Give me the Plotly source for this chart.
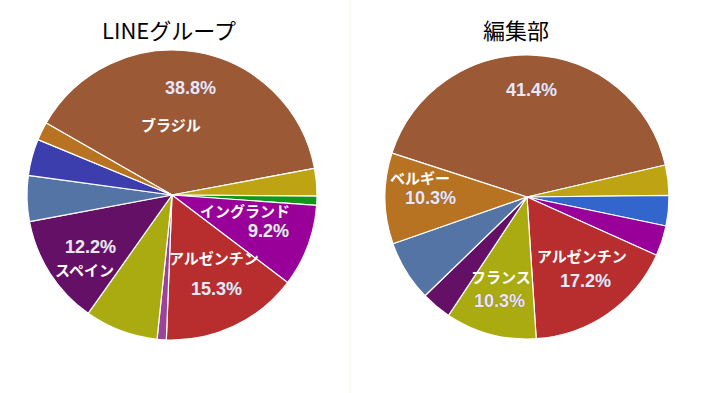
import math
import plotly.graph_objects as go

# ---------------- data ----------------
line_countries = ["ブラジル", "ポルトガル", "メキシコ", "イングランド", "アルゼンチン",
                  "コロンビア", "フランス", "スペイン", "ドイツ", "ウルグアイ", "ベルギー"]
line_votes = [38, 3, 1, 9, 15, 1, 8, 12, 5, 4, 2]

edit_countries = ["ブラジル", "ポルトガル", "クロアチア", "イングランド", "アルゼンチン",
                  "フランス", "スペイン", "ドイツ", "ベルギー"]
edit_votes = [12, 1, 1, 1, 5, 3, 1, 2, 3]

titles = ["LINEグループ", "編集部"]

# ---------------- styles ----------------
country_colors = {
    "ブラジル": "#9c5935", "ポルトガル": "#bea413", "メキシコ": "#109618",
    "イングランド": "#990099", "アルゼンチン": "#b82e2e", "コロンビア": "#994499",
    "フランス": "#aaaa11", "スペイン": "#651067", "ドイツ": "#5574a6",
    "ウルグアイ": "#3b3eac", "ベルギー": "#b77322", "クロアチア": "#3366cc",
}

W, H = 701, 393
# pie geometry (centre x, centre y, radius in px) and start rotation
geom = [
    dict(cx=172, cy=195, R=145, rot=299.8),
    dict(cx=527, cy=197, R=142, rot=288.0),
]
# label placement style: radius fraction for the percentage, name offset (px)
label_style = [
    {"ブラジル": (0.75, (-19, 37)), "イングランド": (0.71, (-23, -21)),
     "アルゼンチン": (0.72, (-3, -32)), "スペイン": (0.67, (-6, 22))},
    {"ブラジル": (0.755, None), "ベルギー": (0.68, (-10, -21)),
     "フランス": (0.76, (2, -25)), "アルゼンチン": (0.72, (-3, -25))},
]
title_x = [169, 516]

fig = go.Figure()
annotations = []
datasets = [(line_countries, line_votes), (edit_countries, edit_votes)]

for i, (cats, vals) in enumerate(datasets):
    g = geom[i]
    cx, cy, R = g["cx"], g["cy"], g["R"]
    fig.add_trace(go.Pie(
        labels=cats, values=vals, sort=False, direction="clockwise",
        rotation=g["rot"], textinfo="none", showlegend=False,
        marker=dict(colors=[country_colors[c] for c in cats],
                    line=dict(color="white", width=1.2)),
        domain=dict(x=[(cx - R - 8) / W, (cx + R + 8) / W],
                    y=[1 - (cy + R) / H, 1 - (cy - R) / H]),
        hovertemplate="%{label}: %{value} (%{percent})<extra></extra>",
    ))
    total = sum(vals)
    cum = 0
    for c, v in zip(cats, vals):
        mid = g["rot"] + (cum + v / 2) / total * 360
        cum += v
        if c not in label_style[i]:
            continue
        rf, off = label_style[i][c]
        th = math.radians(mid)
        px = cx + rf * R * math.sin(th)
        py = cy - rf * R * math.cos(th)
        pct = f"{v / total * 100:.1f}%"
        annotations.append(dict(
            x=px / W, y=1 - py / H, xref="paper", yref="paper",
            text=pct, showarrow=False, xanchor="center", yanchor="middle", borderpad=0,
            font=dict(family="Liberation Sans, Arial", size=18, color="#ece6f4",
                      weight="bold", shadow="0px 0px 1px #6a5a70"),
        ))
        if off is not None:
            annotations.append(dict(
                x=px / W, y=1 - py / H, xref="paper", yref="paper",
                xshift=off[0], yshift=-off[1], borderpad=0,
                text=f"<b>{c}</b>", showarrow=False, xanchor="center", yanchor="middle",
                font=dict(family="Noto Sans CJK JP", size=15, color="white"),
            ))
    annotations.append(dict(
        x=title_x[i] / W, y=1 - 29 / H, xref="paper", yref="paper",
        text=titles[i], showarrow=False, xanchor="center", yanchor="middle",
        font=dict(family="Noto Sans CJK JP", size=22, color="black"),
    ))

fig.update_layout(
    width=W, height=H, margin=dict(l=0, r=0, t=0, b=0),
    paper_bgcolor="white", plot_bgcolor="white",
    annotations=annotations,
    shapes=[dict(type="line", xref="paper", yref="paper", x0=350 / W, x1=350 / W,
                 y0=0, y1=1, line=dict(color="#f3f5e8", width=1))],
)

fig.write_html("out.html", config={"displayModeBar": False},
               post_script="document.body.style.margin='0';document.body.style.padding='0';")
